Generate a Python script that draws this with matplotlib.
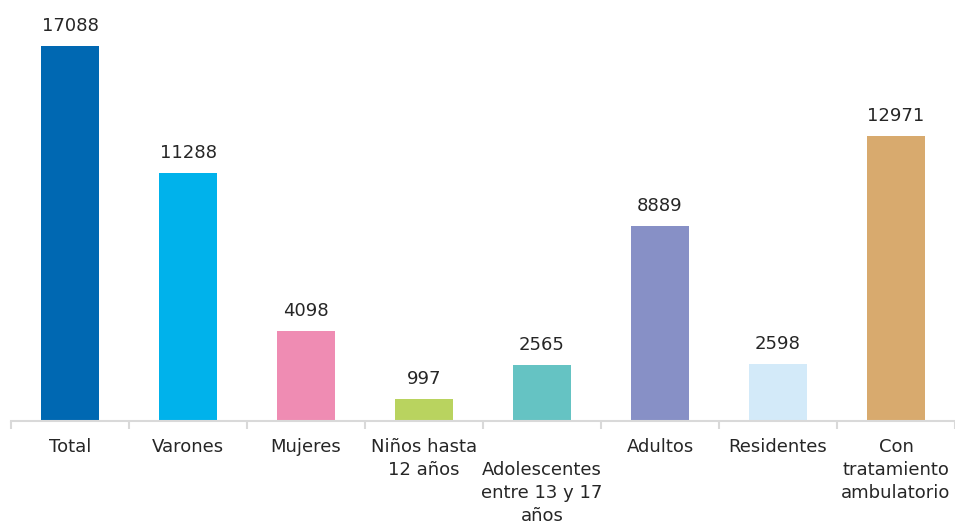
import matplotlib
matplotlib.use("Agg")
import matplotlib.pyplot as plt
import numpy as np

categorias = ["Total", "Varones", "Mujeres", "Niños hasta\n12 años",
              "\nAdolescentes\nentre 13 y 17\naños", "Adultos", "Residentes",
              "Con\ntratamiento\nambulatorio"]
valores = [17088, 11288, 4098, 997, 2565, 8889, 2598, 12971]
colores = ["#0068b2", "#00b2eb", "#ef8cb3", "#b9d35f",
           "#65c3c3", "#8790c6", "#d3eaf9", "#d8aa6e"]

plt.rcParams["font.family"] = ["DejaVu Sans"]

fig = plt.figure(figsize=(9.55, 5.26), dpi=100)
ax = fig.add_axes([11 / 955, 1 - 421 / 526, 944 / 955, 421 / 526])

x = np.arange(len(valores))
barras = ax.bar(x, valores, width=0.49, color=colores)

for xi, v in zip(x, valores):
    ax.annotate(str(v), (xi, v), xytext=(0, 8), textcoords="offset points",
                ha="center", va="bottom", fontsize=13, color="#262626")

ax.set_xlim(-0.5, -0.5 + 944 / 118.3)
ax.set_ylim(0, 421 / 375 * 17088)

for lado in ["top", "right", "left"]:
    ax.spines[lado].set_visible(False)
ax.spines["bottom"].set_color("#d9d9d9")
ax.spines["bottom"].set_linewidth(1.5)
ax.set_yticks([])

# marcas entre categorias, etiquetas centradas bajo cada barra
ax.set_xticks(np.arange(len(valores) + 1) - 0.5)
ax.set_xticks(x, minor=True)
ax.set_xticklabels([])
ax.set_xticklabels(categorias, minor=True, fontsize=13, color="#262626",
                   linespacing=1.36, va="top")
ax.tick_params(axis="x", which="major", length=6, color="#d9d9d9", width=1.5)
ax.tick_params(axis="x", which="minor", length=0, pad=12)

fig.savefig("out.png", dpi=100)
